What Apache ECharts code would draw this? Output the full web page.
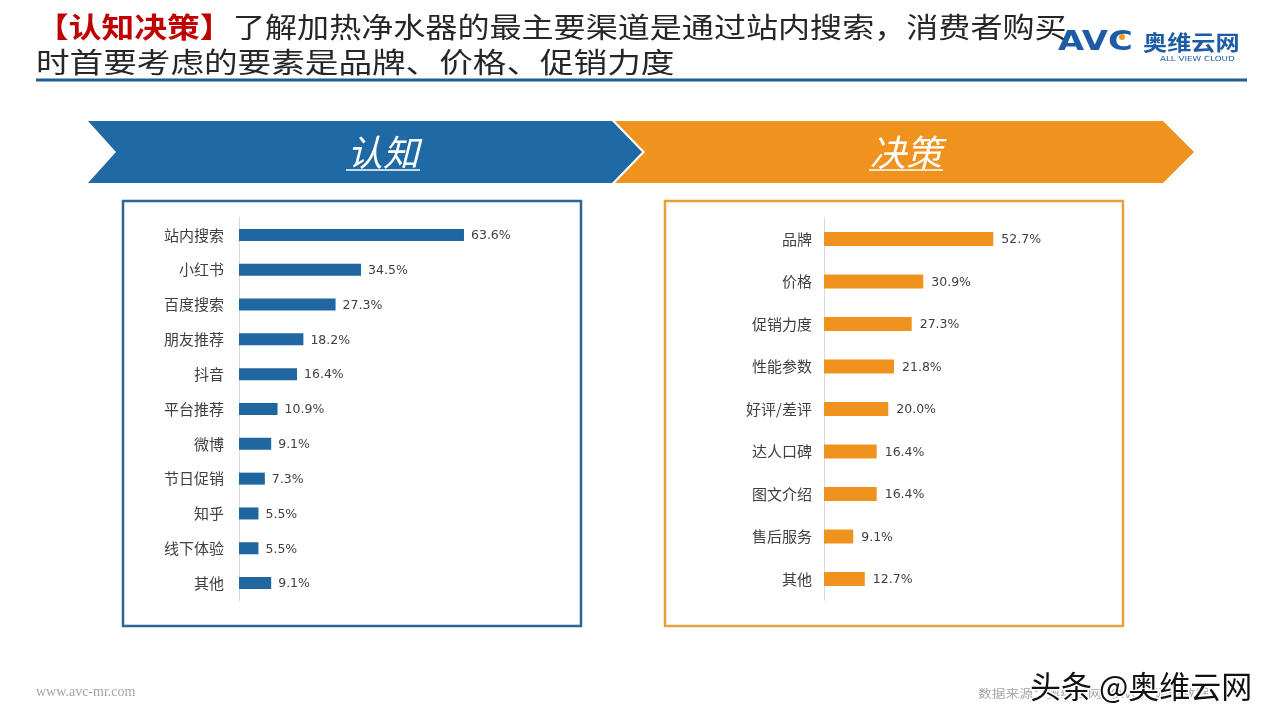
<!DOCTYPE html>
<html>
<head>
<meta charset="utf-8">
<script src="https://cdn.jsdelivr.net/npm/echarts@6/dist/echarts.min.js"></script>
<style>
html,body{margin:0;padding:0;background:#fff;}
#main{width:1280px;height:720px;}
</style>
</head>
<body>
<div id="main"></div>
<script>
// ---- data ----
const awarenessCategories = ['站内搜索','小红书','百度搜索','朋友推荐','抖音','平台推荐','微博','节日促销','知乎','线下体验','其他'];
const awarenessValues = [63.6, 34.5, 27.3, 18.2, 16.4, 10.9, 9.1, 7.3, 5.5, 5.5, 9.1];
const decisionCategories = ['品牌','价格','促销力度','性能参数','好评/差评','达人口碑','图文介绍','售后服务','其他'];
const decisionValues = [52.7, 30.9, 27.3, 21.8, 20.0, 16.4, 16.4, 9.1, 12.7];
const titleRed = '【认知决策】';
const titleLine1 = '了解加热净水器的最主要渠道是通过站内搜索，消费者购买';
const titleLine2 = '时首要考虑的要素是品牌、价格、促销力度';
const sectionLabels = ['认知', '决策'];

const BLUE = '#1F69A4';
const ORANGE = '#F0931E';
const CJK = '"Noto Sans CJK SC", "Noto Sans", sans-serif';

const chart = echarts.init(document.getElementById('main'), null, {renderer: 'canvas'});

function catAxis(gridIndex, data) {
  return {
    type: 'category', gridIndex, data, inverse: true,
    axisTick: {show: false},
    axisLine: {show: true, lineStyle: {color: '#D9D9D9', width: 1}},
    axisLabel: {color: '#404040', fontSize: 15, fontFamily: CJK, margin: gridIndex === 0 ? 15 : 12},
    splitLine: {show: false}
  };
}
function valAxis(gridIndex) {
  return {type: 'value', gridIndex, min: 0, max: 80, show: false, splitLine: {show: false}};
}
function barSeries(idx, data, color, bw, dist) {
  return {
    type: 'bar', xAxisIndex: idx, yAxisIndex: idx, data,
    barWidth: bw, itemStyle: {color},
    label: {show: true, position: 'right', distance: dist, color: '#404040', fontSize: 12.5,
      fontFamily: '"DejaVu Sans", sans-serif', offset: [0, 1],
      formatter: p => p.value.toFixed(1) + '%'},
    silent: true, animation: false
  };
}

function scaledText(x, y, text, opts, sx) {
  return {
    type: 'group', x, y, scaleX: sx || 1,
    children: [{type: 'text', x: 0, y: 0, style: Object.assign({text}, opts)}]
  };
}

const graphics = [
  // title
  scaledText(36, 27, titleRed, {font: 'bold 28px ' + CJK, fill: '#C00000', verticalAlign: 'middle'}, 1.17),
  scaledText(233, 27, titleLine1, {font: '28px ' + CJK, fill: '#262626', verticalAlign: 'middle'}, 1.145),
  scaledText(36, 62, titleLine2, {font: '28px ' + CJK, fill: '#262626', verticalAlign: 'middle'}, 1.2),
  {type: 'rect', shape: {x: 36, y: 78.5, width: 1211, height: 3}, style: {fill: '#1F5F8F'}},
  // logo
  scaledText(1058, 43, 'AVC', {font: '900 26px "DejaVu Sans", sans-serif', fill: '#1E5BA6', verticalAlign: 'middle'}, 1.3),
  {type: 'circle', shape: {cx: 1122, cy: 37, r: 3}, style: {fill: '#F39A1F'}},
  scaledText(1143, 42, '奥维云网', {font: 'bold 21px ' + CJK, fill: '#1E5BA6', verticalAlign: 'middle'}, 1.15),
  scaledText(1160, 59, 'ALL VIEW CLOUD', {font: '7px "DejaVu Sans", sans-serif', fill: '#1E5BA6', verticalAlign: 'middle'}, 1.25),
  // chevrons
  {type: 'polygon', shape: {points: [[615,121],[1163,121],[1194,152],[1163,183],[615,183],[645,152]]}, style: {fill: ORANGE}},
  {type: 'polygon', shape: {points: [[88,121],[612,121],[642,152],[612,183],[88,183],[116,152]]}, style: {fill: BLUE}},
  {type: 'text', x: 383, y: 152, style: {text: sectionLabels[0], font: 'italic 36px ' + CJK, fill: '#fff', align: 'center', verticalAlign: 'middle'}},
  {type: 'line', shape: {x1: 346, y1: 170, x2: 420, y2: 170}, style: {stroke: '#fff', lineWidth: 1.5}},
  {type: 'text', x: 906, y: 152, style: {text: sectionLabels[1], font: 'italic 36px ' + CJK, fill: '#fff', align: 'center', verticalAlign: 'middle'}},
  {type: 'line', shape: {x1: 869, y1: 170, x2: 943, y2: 170}, style: {stroke: '#fff', lineWidth: 1.5}},
  // boxes
  {type: 'rect', shape: {x: 123, y: 201, width: 458, height: 425}, style: {fill: 'none', stroke: '#2A6593', lineWidth: 2.5}},
  {type: 'rect', shape: {x: 665, y: 201, width: 458, height: 425}, style: {fill: 'none', stroke: '#E6A23C', lineWidth: 2.5}},
  // footer
  {type: 'text', x: 36, y: 692, style: {text: 'www.avc-mr.com', font: '14px "Liberation Serif", serif', fill: '#A6A6A6', verticalAlign: 'middle'}},
  scaledText(978, 694, '数据来源：奥维云网（AVC）调研数据', {font: '11px ' + CJK, fill: '#A6A6A6', verticalAlign: 'middle'}, 1.25),
  {type: 'text', x: 1030, y: 686, style: {text: '头条 @奥维云网', font: '31px ' + CJK, fill: '#111', stroke: '#fff', lineWidth: 3, verticalAlign: 'middle'}}
];

chart.setOption({
  animation: false,
  grid: [
    {left: 239, top: 217.5, width: 283, height: 383},
    {left: 824, top: 217.75, width: 257, height: 382.5}
  ],
  xAxis: [valAxis(0), valAxis(1)],
  yAxis: [catAxis(0, awarenessCategories), catAxis(1, decisionCategories)],
  series: [
    barSeries(0, awarenessValues, '#2066A0', 12, 7),
    barSeries(1, decisionValues, ORANGE, 14, 8)
  ],
  graphic: graphics
});
</script>
</body>
</html>
